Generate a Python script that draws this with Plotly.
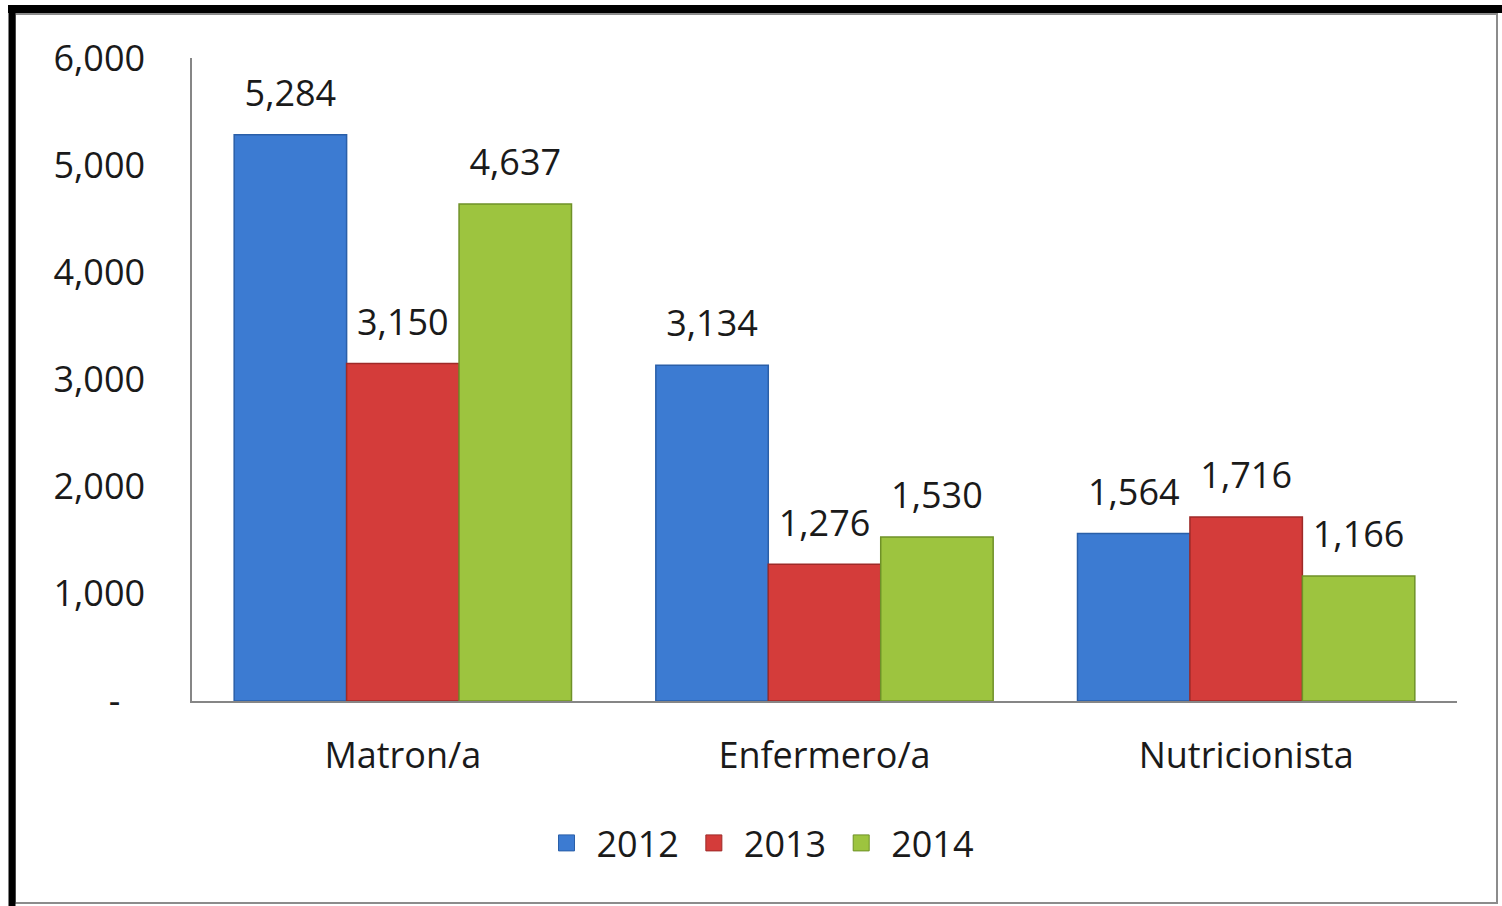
import plotly.graph_objects as go

categories = ["Matron/a", "Enfermero/a", "Nutricionista"]
years = ["2012", "2013", "2014"]
values_2012 = [5284, 3134, 1564]
values_2013 = [3150, 1276, 1716]
values_2014 = [4637, 1530, 1166]
tick_vals = [0, 1000, 2000, 3000, 4000, 5000, 6000]
tick_text = ["-\u00a0\u00a0\u2009", "1,000", "2,000", "3,000", "4,000", "5,000", "6,000"]

series = [values_2012, values_2013, values_2014]
colors = ["#3c7bd2", "#d43c3a", "#9dc43f"]
edges = ["#2a5fa8", "#9e2a28", "#6f9128"]

W, H = 1502, 906
L, R, T, B = 192, 1457, 58, 701
FONT = "Open Sans"
FS = 36
TXT = "#1a1a1a"

fig = go.Figure()
for name, vals, c, e in zip(years, series, colors, edges):
    fig.add_trace(go.Bar(
        name=name, x=categories, y=vals,
        marker=dict(color=c, line=dict(color=e, width=1.5)),
        cliponaxis=False, showlegend=False,
    ))
for name, vals in zip(years, series):
    fig.add_trace(go.Scatter(
        name=name, x=categories, y=vals, mode="markers+text",
        text=[f"{v:,}" for v in vals], textposition="top center",
        textfont=dict(family=FONT, size=FS, color=TXT),
        marker=dict(size=30, color="rgba(0,0,0,0)"),
        showlegend=False, hoverinfo="skip", cliponaxis=False,
    ))
# legend entries (larger square keys), on a hidden overlay axis
for name, c, e in zip(years, colors, edges):
    fig.add_trace(go.Scatter(
        name=name, x=[None], y=[None], mode="markers", xaxis="x2", yaxis="y2",
        marker=dict(symbol="square", size=16, color=c, line=dict(color=e, width=1)),
        showlegend=True,
    ))

def px(p):
    return (p - L) / (R - L)

def py(p):
    return (B - p) / (B - T)

shapes = [
    dict(type="rect", xref="paper", yref="paper", x0=px(15), x1=px(1497), y0=py(903), y1=py(14),
         line=dict(color="#8c8c8c", width=2), fillcolor="rgba(0,0,0,0)", layer="below"),
    dict(type="line", xref="paper", yref="paper", x0=px(12), x1=px(12), y0=py(906), y1=py(5),
         line=dict(color="black", width=7)),
    dict(type="line", xref="paper", yref="paper", x0=px(8), x1=px(1502), y0=py(9), y1=py(9),
         line=dict(color="black", width=8)),
]

fig.update_layout(
    width=W, height=H,
    margin=dict(l=L, r=W - R, t=T, b=H - B),
    paper_bgcolor="white", plot_bgcolor="white",
    barmode="group", bargap=0.2, bargroupgap=0,
    scattermode="group", scattergap=0.2,
    font=dict(family=FONT, size=FS, color=TXT),
    showlegend=True,
    legend=dict(orientation="h", x=px(758), y=py(843), xanchor="center", yanchor="middle",
                font=dict(family=FONT, size=FS, color=TXT), itemwidth=50, itemsizing="trace",
                traceorder="normal", tracegroupgap=0),
    shapes=shapes,
    xaxis=dict(showgrid=False, showline=True, linecolor="#868686", linewidth=1.5,
               ticks="", tickfont=dict(family=FONT, size=FS, color=TXT), ticklabelstandoff=22),
    yaxis=dict(range=[0, 6000], tickvals=tick_vals, ticktext=tick_text, showgrid=False,
               showline=True, linecolor="#868686", linewidth=1.5, zeroline=False,
               ticks="", tickfont=dict(family=FONT, size=FS, color=TXT), ticklabelstandoff=38),
    xaxis2=dict(overlaying="x", visible=False, range=[0, 1]),
    yaxis2=dict(overlaying="y", visible=False, range=[0, 1]),
)

fig.write_html("out.html", config={"displayModeBar": False},
               post_script="document.body.style.margin='0';")
